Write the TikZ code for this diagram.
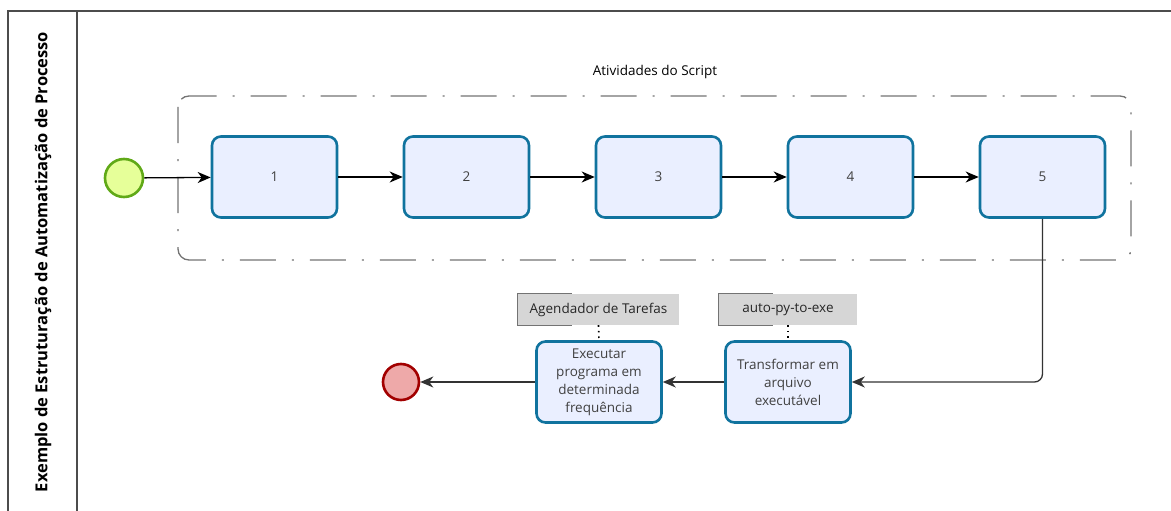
\documentclass[tikz,border=0pt]{standalone}
\usepackage{fontspec}
\setmainfont{Open Sans}
\usepackage{xcolor}
\usetikzlibrary{positioning,arrows.meta}
\definecolor{taskline}{HTML}{10739E}
\definecolor{taskfill}{HTML}{EAEFFF}
\definecolor{startfill}{HTML}{E6FF99}
\definecolor{startline}{HTML}{60A917}
\definecolor{endfill}{HTML}{EEA9A9}
\definecolor{endline}{HTML}{A20000}
\definecolor{notefill}{HTML}{D6D6D6}

\begin{document}
\begin{tikzpicture}[x=1pt, y=-1pt, node distance=64.4pt,
  task/.style={draw=taskline, line width=2.6pt, rounded corners=9pt, fill=taskfill,
    minimum width=125pt, minimum height=81pt, text=black!75,
    font=\fontsize{13.5}{18}\selectfont, align=center},
  startev/.style={circle, draw=startline, fill=startfill, line width=2.6pt, minimum size=38pt},
  endev/.style={circle, draw=endline, fill=endfill, line width=2.6pt, minimum size=36pt},
  note/.style={fill=notefill, minimum width=161pt, minimum height=31pt, inner sep=0pt,
    font=\fontsize{13.5}{16}\selectfont, text=black!85},
  flow/.style={-{Stealth[length=13pt, width=11pt, inset=4pt]}, line width=1.3pt},
  assoc/.style={line width=1.6pt, dash pattern=on 1.6pt off 4pt}]
\useasboundingbox (0,0) rectangle (1171,511);
% pool
\draw[black!70, line width=1.4pt] (8,511) -- (8,11) -- (1171,11);
\draw[black!70, line width=1.4pt] (77,11) -- (77,511);
\node[rotate=90, font=\fontsize{16.5}{20}\selectfont\bfseries] (lane) at (43,262)
  {Exemplo de Estruturação de Automatização de Processo};

% group
\draw[black!55, line width=1.3pt, rounded corners=11pt,
  dash pattern=on 36pt off 16pt on 2pt off 16pt] (178,96) rectangle (1131,260);
\node[font=\fontsize{13.5}{16}\selectfont] (grp) at (655,72) {Atividades do Script};

% activities
\node[startev] (start) at (124,178) {};
\node[task] (t1) at (274.5,177) {1};
\node[task, right=of t1] (t2) {2};
\node[task, right=of t2] (t3) {3};
\node[task, right=of t3] (t4) {4};
\node[task, right=of t4] (t5) {5};
\node[task] (exe) at (788,382) {Transformar em\\arquivo\\executável};
\node[task, left=61.4pt of exe] (agenda) {Executar\\programa em\\determinada\\frequência};
\node[endev] (stop) at (401,382) {};

% notes
\node[note, minimum width=161pt] (n1) at (598.5,309.5) {Agendador de Tarefas};
\node[note, minimum width=138pt] (n2) at (788,309.5) {auto-py-to-exe};
\draw[black!55, line width=1.2pt] ([xshift=54pt]n1.north west) -- (n1.north west) -- (n1.south west) -- ([xshift=54pt]n1.south west);
\draw[black!55, line width=1.2pt] ([xshift=54pt]n2.north west) -- (n2.north west) -- (n2.south west) -- ([xshift=54pt]n2.south west);
\draw[assoc] (n1.south) -- (agenda.north);
\draw[assoc] (n2.south) -- (exe.north);

% flows
\draw[flow] (start) -- (t1);
\draw[flow] (t1) -- (t2);
\draw[flow] (t2) -- (t3);
\draw[flow] (t3) -- (t4);
\draw[flow] (t4) -- (t5);
\draw[flow, black!80, rounded corners=8pt] (t5.south) |- (exe.east);
\draw[flow, black!80] (exe) -- (agenda);
\draw[flow, black!80] (agenda) -- (stop);
\end{tikzpicture}
\end{document}
